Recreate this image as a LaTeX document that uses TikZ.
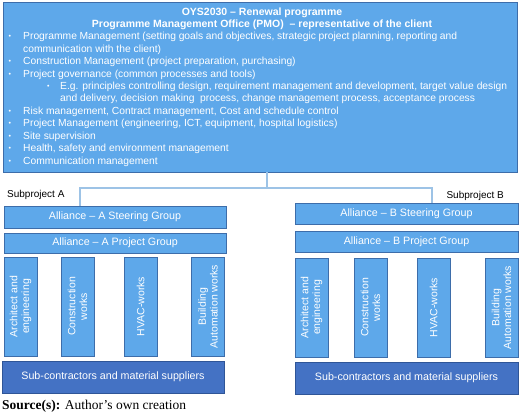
\documentclass[tikz,border=0pt]{standalone}
\usepackage{fontspec}
\setmainfont{Liberation Sans}
\newfontfamily\srcfont{Liberation Serif}
\definecolor{lb}{HTML}{5EA8EA}
\definecolor{lbd}{HTML}{3D6DAA}
\definecolor{db}{HTML}{4472C4}
\definecolor{dbd}{HTML}{2F5597}
\definecolor{conn}{HTML}{9DC3E6}
\begin{document}
\begin{tikzpicture}[x=1pt,y=-1pt,
  box/.style={draw=lbd, line width=0.9pt, fill=lb, text=white, inner sep=0pt, outer sep=0pt, font=\fontsize{10.7}{12}\selectfont, align=center},
  dbox/.style={box, draw=dbd, fill=db},
  col/.style={box, rotate=90, minimum width=99pt, minimum height=33pt, font=\fontsize{10.5}{11.8}\selectfont},
  ln/.style={anchor=west, inner sep=0pt, text=white, font=\fontsize{10.3}{12}\selectfont},
  ttl/.style={inner sep=0pt, text=white, font=\bfseries\fontsize{10.5}{12}\selectfont},
  lab/.style={inner sep=0pt, font=\fontsize{10}{12}\selectfont},
  conline/.style={draw=conn, line width=1.2pt}
]
\useasboundingbox (0,0) rectangle (520,415);
% top box
\node[box, minimum width=514pt, minimum height=170pt] (pmo) at (260,87) {};
\node[ttl] (t1) at (262,13) {OYS2030 -- Renewal programme};
\node[ttl] (t2) at (262,25) {Programme Management Office (PMO) \ -- representative of the client};
\node[ln] (l1) at (23,37) {\makebox[434pt][s]{Programme Management (setting goals and objectives, strategic project planning, reporting and}};
\foreach \y/\n/\t in {
  50/l2/{communication with the client)},
  62/l3/{Construction Management (project preparation, purchasing)},
  75/l4/{Project governance (common processes and tools)},
  112/l7/{Risk management, Contract management, Cost and schedule control},
  124/l8/{Project Management (engineering, ICT, equipment, hospital logistics)},
  137/l9/{Site supervision},
  149/l10/{Health, safety and environment management},
  162/l11/{Communication management}}
  {\node[ln] (\n) at (23,\y) {\t};}
\foreach \y/\n in {37/b1,62/b3,75/b4,112/b7,124/b8,137/b9,149/b10,162/b11}
  {\node[ln, font=\fontsize{7}{8}\selectfont] (\n) at (8.5,\y) {•};}
\node[ln, font=\fontsize{7}{8}\selectfont] (b5) at (47,87) {•};
\node[ln] (l5) at (60,87) {E.g. principles controlling design, requirement management and development, target value design};
\node[ln] (l6) at (60,99) {and delivery, decision making \ process, change management process, acceptance process};
% subproject A
\node[lab, anchor=west] (sa) at (7,195) {Subproject A};
\node[box, minimum width=222pt, minimum height=22pt] (asg) at (115,217) {Alliance -- A Steering Group};
\node[box, minimum width=222pt, minimum height=20pt] (apg) at (115,243) {Alliance -- A Project Group};
\node[col] (a1) at (20.5,306.5) {Architect and\\engineering};
\node[col] (a2) at (77.5,306.5) {Construction\\works};
\node[col] (a3) at (140.5,306.5) {HVAC-works};
\node[col] (a4) at (208,306.5) {Building\\Automation works};
\node[dbox, minimum width=222pt, minimum height=32pt] (asc) at (113,377) {Sub-contractors and material suppliers};
% subproject B
\node[lab, anchor=east] (sb) at (504,196) {Subproject B};
\node[box, minimum width=223pt, minimum height=21pt] (bsg) at (406.5,213.5) {Alliance -- B Steering Group};
\node[box, minimum width=223pt, minimum height=21pt] (bpg) at (406.5,241.5) {Alliance -- B Project Group};
\node[col] (b1c) at (311.5,307.5) {Architect and\\engineering};
\node[col] (b2c) at (370.5,307.5) {Construction\\works};
\node[col] (b3c) at (433.5,307.5) {HVAC-works};
\node[col] (b4c) at (501.5,307.5) {Building\\Automation works};
\node[dbox, minimum width=223pt, minimum height=32pt] (bsc) at (406.5,378) {Sub-contractors and material suppliers};
% connectors
\coordinate (j) at (267,188);
\coordinate (ja) at (80,188);
\coordinate (jb) at (432,188);
\draw[conline] (pmo.south -| j) -- (j);
\draw[conline] (asg.north -| ja) -- (ja) -- (jb) -- (bsg.north -| jb);
% source
\node[anchor=west, inner sep=0pt, font=\srcfont\fontsize{13.5}{15}\selectfont] (src) at (2,406.5) {\textbf{Source(s):} Author’s own creation};
\end{tikzpicture}
\end{document}
